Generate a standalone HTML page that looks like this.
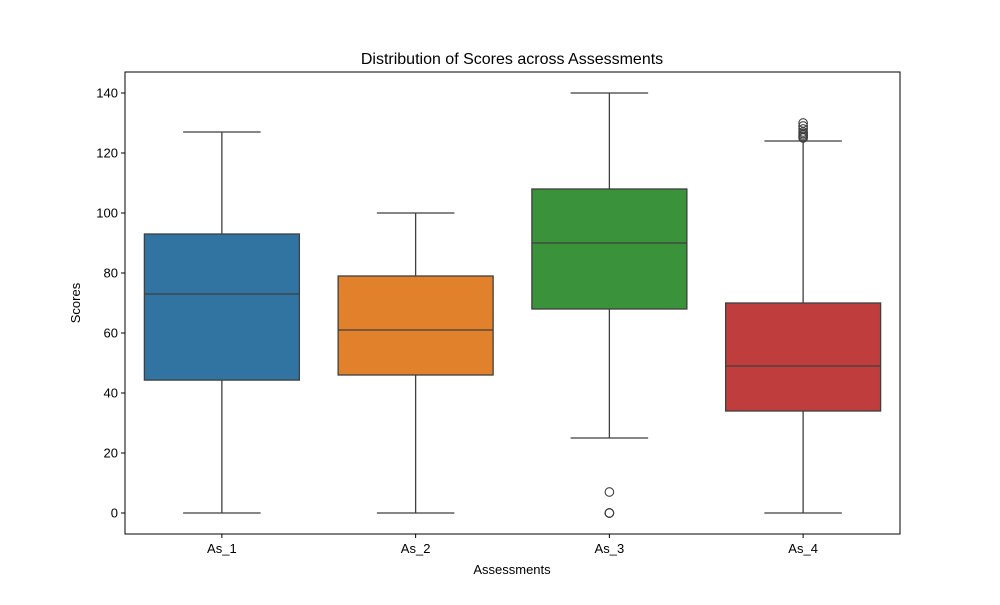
<!DOCTYPE html>
<html><head><meta charset="utf-8"><style>
body{margin:0;background:#fff;font-family:"Liberation Sans","DejaVu Sans",sans-serif}
</style></head><body>
<svg id="c" width="1000" height="600" xmlns="http://www.w3.org/2000/svg"></svg>
<script>
const categories=["As_1","As_2","As_3","As_4"];
const whiskerLow=[0,0,25,0];
const q1=[44.3,46,68,34];
const medians=[73,61,90,49];
const q3=[93,79,108,70];
const whiskerHigh=[127,100,140,124];
const outliers=[[],[],[7,0,0,0],[125,125.5,126,126.5,127,128,129,130]];
const colors=["#3274a1","#e1812c","#3a923a","#c03d3e"];
const yTicks=[0,20,40,60,80,100,120,140];
const L=125,R=900,T=72,B=534,yMin=-7,yMax=147;
const ys=v=>B-(v-yMin)/(yMax-yMin)*(B-T);
const band=(R-L)/categories.length;
const xs=i=>L+band*(i+0.5);
const bw=band*0.8;
const svg=document.getElementById('c');
const NS="http://www.w3.org/2000/svg";
function mk(tag,attrs,parent){const e=document.createElementNS(NS,tag);for(const k in attrs)e.setAttribute(k,attrs[k]);(parent||svg).appendChild(e);return e;}
let t=mk('text',{x:512,y:64,'text-anchor':'middle','font-size':16,fill:'#000'});t.textContent="Distribution of Scores across Assessments";


yTicks.forEach(v=>{
  const y=ys(v);
  const l=mk('line',{x1:L-4,x2:L,y1:y,y2:y,stroke:'#000','stroke-width':1});
  
  
  const tx=mk('text',{x:L-7,y:y+4.5,'text-anchor':'end','font-size':13});tx.textContent=v;
  
  
});
categories.forEach((c,i)=>{
  const cx=xs(i);
  const g=mk('g',{});
  
  
  const st='#3f3f3f';
  mk('line',{x1:cx,x2:cx,y1:ys(whiskerLow[i]),y2:ys(q1[i]),stroke:st,'stroke-width':1.3},g);
  mk('line',{x1:cx,x2:cx,y1:ys(q3[i]),y2:ys(whiskerHigh[i]),stroke:st,'stroke-width':1.3},g);
  mk('line',{x1:cx-bw/4,x2:cx+bw/4,y1:ys(whiskerLow[i]),y2:ys(whiskerLow[i]),stroke:st,'stroke-width':1.3},g);
  mk('line',{x1:cx-bw/4,x2:cx+bw/4,y1:ys(whiskerHigh[i]),y2:ys(whiskerHigh[i]),stroke:st,'stroke-width':1.3},g);
  mk('rect',{x:cx-bw/2,y:ys(q3[i]),width:bw,height:ys(q1[i])-ys(q3[i]),fill:colors[i],stroke:st,'stroke-width':1.3},g);
  mk('line',{x1:cx-bw/2,x2:cx+bw/2,y1:ys(medians[i]),y2:ys(medians[i]),stroke:st,'stroke-width':1.3},g);
  outliers[i].forEach(v=>{
    const o=mk('circle',{cx:cx,cy:ys(v),r:4.3,fill:'none',stroke:st,'stroke-width':1.1},g);
    
    
  });
  const tk=mk('line',{x1:cx,x2:cx,y1:B,y2:B+4,stroke:'#000'});
  
  
  const tx=mk('text',{x:cx,y:B+19,'text-anchor':'middle','font-size':13});tx.textContent=c;
  
  
});
const fr=mk('rect',{x:L,y:T,width:R-L,height:B-T,fill:'none',stroke:'#000','stroke-width':1});


const xl=mk('text',{x:512,y:574,'text-anchor':'middle','font-size':13});xl.textContent="Assessments";


const yl=mk('text',{x:0,y:0,'text-anchor':'middle','font-size':13,transform:'translate(80,303) rotate(-90)'});yl.textContent="Scores";


</script>
</body></html>
